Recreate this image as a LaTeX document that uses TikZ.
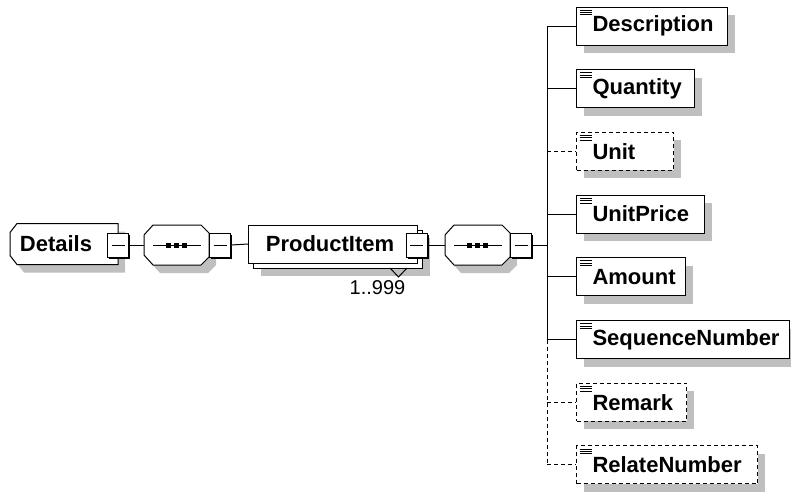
\documentclass[tikz,border=0pt]{standalone}
\usepackage{fontspec}
\setmainfont{Liberation Sans}
\usetikzlibrary{shadows, calc, positioning, backgrounds}

\newcommand{\boxfont}{\fontsize{22}{24}\selectfont\bfseries}

\tikzset{
    gray shadow/.style={drop shadow={shadow xshift=7pt, shadow yshift=-8pt, fill=black!25, opacity=1}},
    optional/.style={dash pattern=on 4pt off 3pt},
    elem/.style={draw, fill=white, line width=1pt, minimum height=38pt, inner xsep=0pt, inner ysep=0pt,
        align=left, anchor=west, font=\boxfont, gray shadow,
        path picture={
            \foreach \k in {0,1,2}
                \draw[solid, line width=0.8pt] ([shift={(3,3+2.4*\k)}]path picture bounding box.north west) -- +(12,0);
        }},
    compositor/.style={minimum width=64pt, minimum height=39pt, inner sep=0pt, anchor=west},
    minus/.style={draw, fill=white, line width=1pt, minimum width=21pt, minimum height=24pt, inner sep=0pt,
        drop shadow={shadow xshift=1.5pt, shadow yshift=-1.5pt, fill=black, opacity=1},
        path picture={
            \draw ([xshift=4pt]path picture bounding box.west) -- ([xshift=-4pt]path picture bounding box.east);
        }}
}

\begin{document}
\begin{tikzpicture}[x=1pt, y=-1pt, line width=1pt]
    \useasboundingbox (0,0) rectangle (791,491);

    % Root element
    \node[minimum width=107pt, minimum height=40pt, inner sep=0pt, anchor=west, font=\boxfont]
        (details) at (10,244) {Details\hspace*{16pt}};
    \begin{scope}[on background layer]
        \draw[line width=1pt, fill=white, gray shadow] ($(details.north west)+(7,0)$) -- (details.north east)
            -- (details.south east) -- ($(details.south west)+(7,0)$)
            -- ($(details.south west)+(0,-9)$) -- ($(details.north west)+(0,9)$) -- cycle;
    \end{scope}
    \node[minus] (detailsm) at (details.east |- 0,245) {};

    % Sequences
    \node[compositor] (seqA) at (144,245) {};
    \node[compositor] (seqB) at (445,245) {};
    \foreach \c in {seqA, seqB} {
        \draw[fill=white, gray shadow] ($(\c.north west)+(9,0)$) -- ($(\c.north east)+(-8,0)$)
            -- ($(\c.north east)+(0,8)$) -- ($(\c.south east)+(0,-8)$) -- ($(\c.south east)+(-8,0)$)
            -- ($(\c.south west)+(9,0)$) -- ($(\c.south west)+(0,-10)$) -- ($(\c.north west)+(0,10)$) -- cycle;
        \draw ($(\c.west)+(9,0)$) -- ($(\c.east)+(-8,0)$);
        \foreach \d in {-8,0,8}
            \fill ($(\c.center)+(\d-2.5,-2.5)$) rectangle +(5,5);
    }
    \node[minus, right=0pt of seqA] (seqAm) {};
    \node[minus, right=0pt of seqB] (seqBm) {};

    % Repeated item
    \node[draw, fill=white, minimum width=169pt, minimum height=38pt, inner sep=0pt, anchor=west,
        font=\boxfont,
        drop shadow={shadow xshift=12pt, shadow yshift=-13pt, fill=black!25, opacity=1},
        copy shadow={shadow xshift=5pt, shadow yshift=-5pt, draw, fill=white, line width=1pt}]
        (pi) at (248,244) {ProductItem\hspace*{6pt}};
    \node[minus] (pim) at (416.5,245) {};
    \draw (390,268) -- (398.5,277) -- (407,268);
    \node[font=\fontsize{20}{22}\selectfont] (mult) at (377.5,287.5) {1..999};

    \coordinate (trunk) at (547,245);
    \draw (detailsm.east) -- (seqA.west);
    \draw (seqAm.east) -- (pi.west);
    \draw (pim.east) -- (seqB.west);
    \draw (seqBm.east) -- (trunk);

    % Child elements
    \foreach \n/\t/\w/\k/\s in {desc/Description/151/0/solid, qty/Quantity/118/1/solid,
        unit/Unit/97/2/optional, price/UnitPrice/128/3/solid, amt/Amount/109/4/solid,
        seqno/SequenceNumber/213/5/solid, remark/Remark/110/6/optional, relate/RelateNumber/181/7/optional} {
        \node[elem, \s, text width=\w pt] (\n) at (576,26+62.7*\k) {\hspace*{16pt}\t};
        \draw[\s] (\n.west -| trunk) -- (\n.west);
    }
    \draw (desc.west -| trunk) -- (seqno.west -| trunk);
    \draw[optional] (seqno.west -| trunk) -- (relate.west -| trunk);
\end{tikzpicture}
\end{document}
